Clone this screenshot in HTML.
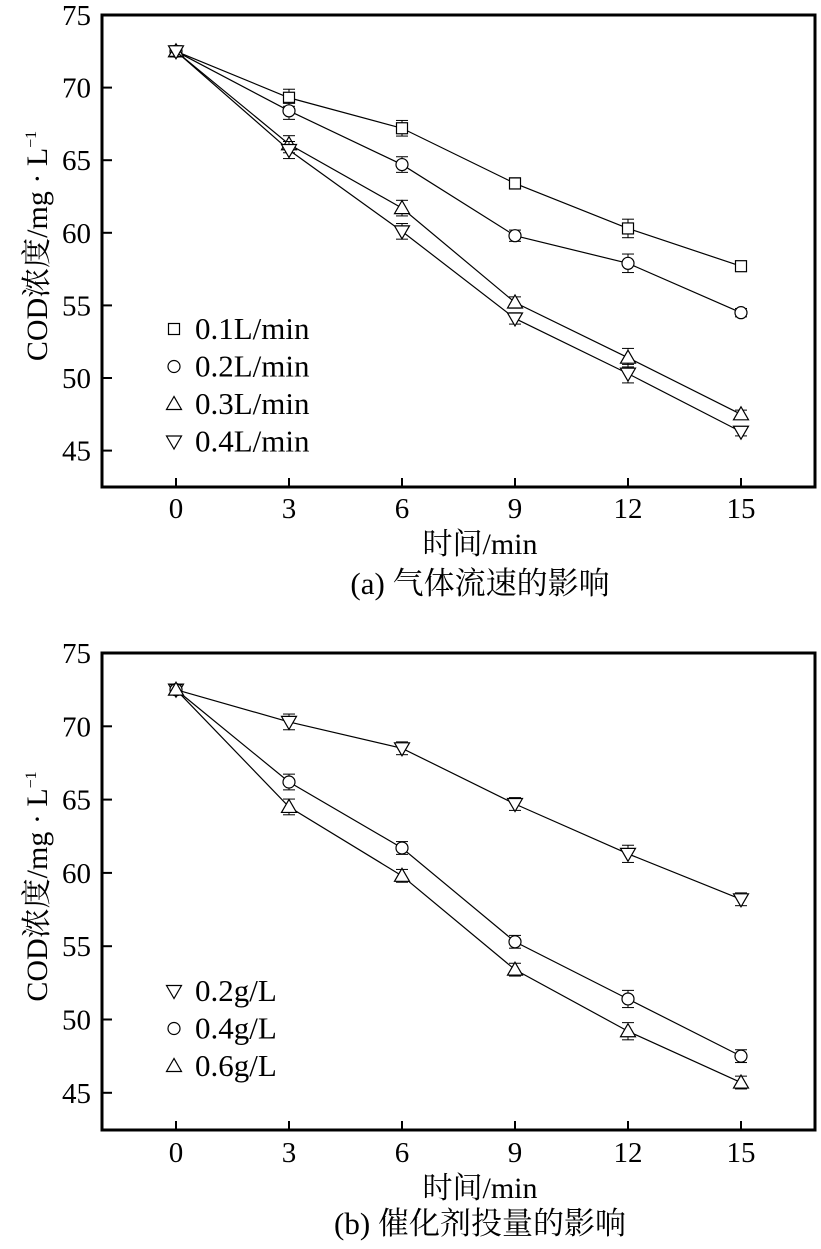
<!DOCTYPE html>
<html><head><meta charset="utf-8"><style>
body{margin:0;background:#fff;width:821px;height:1244px;overflow:hidden}
svg text{font-family:"Liberation Serif","Noto Serif CJK SC",serif;fill:#000}
</style></head><body>
<svg id="svg" width="821" height="1244" xmlns="http://www.w3.org/2000/svg"></svg>
<script>
const times=[0,3,6,9,12,15];
const xTicks=[0,3,6,9,12,15];
const yTicks=[45,50,55,60,65,70,75];
// panel a
const aLabels=["0.1L/min","0.2L/min","0.3L/min","0.4L/min"];
const aMarkers=["square","circle","up","down"];
const a1=[72.5,69.3,67.2,63.4,60.3,57.7];
const a2=[72.5,68.4,64.7,59.8,57.9,54.5];
const a3=[72.5,66.1,61.7,55.2,51.4,47.5];
const a4=[72.5,65.7,60.1,54.1,50.3,46.3];
const aErr=[0.2,0.45,0.4,0.25,0.5,0.15];
// panel b
const bLabels=["0.2g/L","0.4g/L","0.6g/L"];
const bMarkers=["down","circle","up"];
const b1=[72.5,70.3,68.5,64.7,61.3,58.2];
const b2=[72.5,66.2,61.7,55.3,51.4,47.5];
const b3=[72.5,64.5,59.8,53.4,49.2,45.7];
const bErr=[0.2,0.4,0.3,0.3,0.45,0.3];

const svg=document.getElementById('svg');
const NS="http://www.w3.org/2000/svg";
function mk(tag,attrs,parent){const e=document.createElementNS(NS,tag);for(const k in attrs)e.setAttribute(k,attrs[k]);(parent||svg).appendChild(e);return e;}

function marker(g,type,x,y){
  const s=6.5;let e;
  if(type==="square")e=mk('rect',{x:x-s+1,y:y-s+1,width:2*s-2,height:2*s-2,fill:'#fff',stroke:'#000','stroke-width':1.2},g);
  else if(type==="circle")e=mk('circle',{cx:x,cy:y,r:s-0.5,fill:'#fff',stroke:'#000','stroke-width':1.2},g);
  else if(type==="up")e=mk('polygon',{points:`${x},${y-s-1} ${x-s-1},${y+s-1} ${x+s+1},${y+s-1}`,fill:'#fff',stroke:'#000','stroke-width':1.2},g);
  else e=mk('polygon',{points:`${x},${y+s+1} ${x-s-1},${y-s+1} ${x+s+1},${y-s+1}`,fill:'#fff',stroke:'#000','stroke-width':1.2},g);
  return e;
}

function panel(id,top,bottom,y75,perFive,series,labels,markers,err,legY,caption,capY,xtY){
  const L=102,R=815,x0=176,perThree=113;
  const X=t=>x0+t/3*perThree;
  const Y=v=>y75+(75-v)/5*perFive;
  const g=mk('g',{});
  
  
  const f=mk('rect',{x:L,y:top,width:R-L,height:bottom-top,fill:'none',stroke:'#000','stroke-width':3},g);
  
  xTicks.forEach(t=>{
    mk('line',{x1:X(t),x2:X(t),y1:bottom,y2:bottom-9,stroke:'#000','stroke-width':2},g);
    const tx=mk('text',{x:X(t),y:xtY,'font-size':29,'text-anchor':'middle'},g);tx.textContent=t;
    
  });
  yTicks.forEach(v=>{
    mk('line',{x1:L,x2:L+10,y1:Y(v),y2:Y(v),stroke:'#000','stroke-width':2},g);
    const tx=mk('text',{x:91,y:Y(v)+10,'font-size':29,'text-anchor':'end'},g);tx.textContent=v;
    
  });
  const yl=mk('text',{transform:`translate(47,${(top+bottom)/2-5}) rotate(-90)`,'font-size':30,'text-anchor':'middle'},g);
  yl.innerHTML='COD浓度/mg · L<tspan dy="-11" font-size="16">−1</tspan>';
  
  const xl=mk('text',{x:480,y:xtY+36,'font-size':30,'text-anchor':'middle'},g);xl.textContent='时间/min';
  
  const cp=mk('text',{x:480,y:capY,'font-size':31,'text-anchor':'middle'},g);cp.textContent=caption;
  
  series.forEach((s,i)=>{
    const sg=mk('g',{},g);
    
    
    const ln=mk('polyline',{points:s.map((v,j)=>X(times[j])+','+Y(v)).join(' '),fill:'none',stroke:'#000','stroke-width':1.2},sg);
    
    s.forEach((v,j)=>{
      const x=X(times[j]),e=err[j];
      mk('line',{x1:x,x2:x,y1:Y(v+e)-2,y2:Y(v-e)+2,stroke:'#000','stroke-width':1},sg);
      mk('line',{x1:x-6,x2:x+6,y1:Y(v+e)-2,y2:Y(v+e)-2,stroke:'#000','stroke-width':1},sg);
      mk('line',{x1:x-6,x2:x+6,y1:Y(v-e)+2,y2:Y(v-e)+2,stroke:'#000','stroke-width':1},sg);
      const m=marker(sg,markers[i],x,Y(v));
      
    });
    const lg=mk('g',{},g);
    
    marker(lg,markers[i],174,legY+i*37.5);
    const lt=mk('text',{x:195,y:legY+i*37.5+10,'font-size':31},lg);lt.textContent=labels[i];
  });
}
panel('panel-a',15,487,15,72.6,[a1,a2,a3,a4],aLabels,aMarkers,aErr,329,'(a) 气体流速的影响',594,518);
panel('panel-b',653,1130,653,73.3,[b1,b2,b3],bLabels,bMarkers,bErr,991,'(b) 催化剂投量的影响',1234,1162);
</script>
</body></html>
